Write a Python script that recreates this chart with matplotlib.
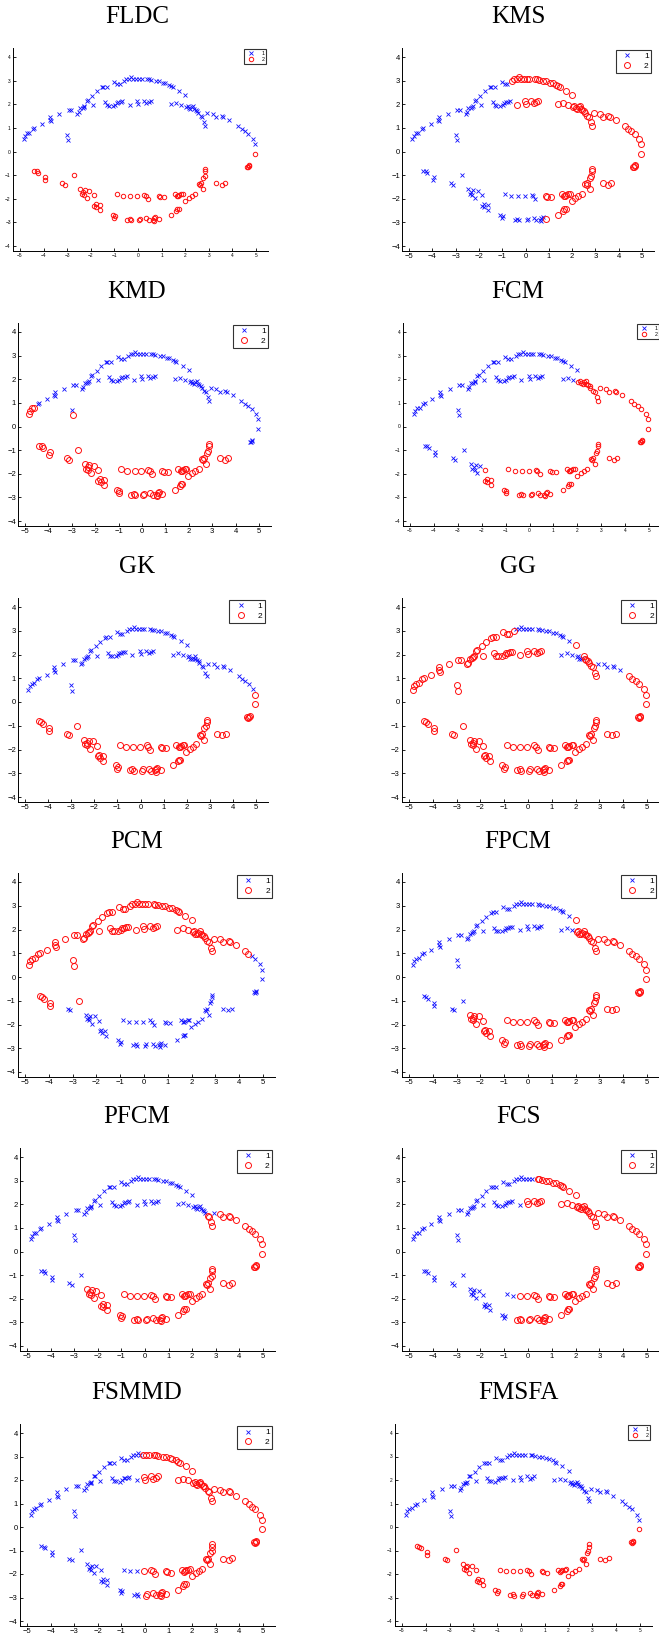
import numpy as np
import matplotlib
matplotlib.use("Agg")
import matplotlib.pyplot as plt

# point cloud (same data in every panel)
upper_outer_x = [-4.85, -4.8, -4.7, -4.6, -4.46, -4.39, -4.06, -3.75, -3.73, -3.7,
                 -3.34, -2.93, -2.83, -2.57, -2.52, -2.45, -2.35, -2.27, -2.3, -2.18,
                 -2.13, -1.9, -1.94, -1.75, -1.54, -1.48, -1.33, -1.03, -0.89, -0.78,
                 -0.58, -0.49, -0.38, -0.28, -0.2, -0.08, 0.05, 0.16, 0.4, 0.48,
                 0.57, 0.77, 0.9, 1.06, 1.16, 1.33, 1.41, 1.47, 1.74, 2.0]
upper_outer_y = [0.52, 0.66, 0.77, 0.79, 0.95, 1.0, 1.15, 1.34, 1.47, 1.27,
                 1.6, 1.75, 1.75, 1.58, 1.66, 1.83, 1.86, 1.93, 1.88, 2.15,
                 2.18, 1.95, 2.35, 2.54, 2.71, 2.74, 2.74, 2.94, 2.87, 2.87,
                 2.97, 3.08, 3.08, 3.15, 3.08, 3.07, 3.07, 3.07, 3.07, 3.05,
                 3.04, 2.99, 2.97, 2.92, 2.9, 2.83, 2.78, 2.74, 2.58, 2.4]
outlier_x = [-3.0, -2.95]
outlier_y = [0.7, 0.48]
upper_inner_x = [-1.41, -1.33, -1.25, -1.08, -0.98, -0.91, -0.84, -0.74, -0.66, -0.35,
                 -0.03, 0.02, 0.25, 0.36, 0.46, 0.54]
upper_inner_y = [2.08, 1.95, 1.94, 1.93, 1.98, 2.07, 2.08, 2.09, 2.12, 1.98,
                 2.13, 2.02, 2.15, 2.05, 2.1, 2.15]
right_inner_x = [1.4, 1.62, 1.84, 2.05, 2.1, 2.15, 2.22, 2.28, 2.35, 2.38,
                 2.44, 2.52, 2.55, 2.66, 2.72, 2.81, 2.86]
right_inner_y = [2.0, 2.05, 1.98, 1.89, 1.93, 1.83, 1.8, 1.87, 1.93, 1.82,
                 1.76, 1.73, 1.65, 1.52, 1.47, 1.24, 1.1]
right_outer_x = [2.94, 3.18, 3.32, 3.56, 3.62, 3.87, 4.25, 4.39, 4.52, 4.68, 4.87, 4.96]
right_outer_y = [1.62, 1.58, 1.48, 1.52, 1.48, 1.34, 1.09, 0.97, 0.87, 0.76, 0.53, 0.3]
tip_x = [4.94, 4.61, 4.65, 4.69, 4.72]
tip_y = [-0.1, -0.64, -0.66, -0.62, -0.58]
lower_rise_x = [2.86, 2.86, 2.83, 2.77, 2.75, 2.66, 2.62, 2.57, 2.42, 2.27, 2.14, 1.98]
lower_rise_y = [-0.74, -0.83, -1.03, -1.11, -1.59, -1.35, -1.42, -1.38, -1.78, -1.89, -1.96, -2.1]
lower_flat_x = [3.32, 3.54, 3.68]
lower_flat_y = [-1.35, -1.4, -1.34]
lower_inner_x = [-0.9, -0.62, -0.32, -0.04, 0.27, 0.33, 0.42, 0.87, 0.93, 1.09,
                 1.55, 1.69, 1.74, 1.84, 1.89, 1.65]
lower_inner_y = [-1.82, -1.89, -1.89, -1.88, -1.83, -1.89, -2.02, -1.88, -1.92, -1.94,
                 -1.82, -1.89, -1.85, -1.81, -1.79, -1.9]
lower_outer_x = [-1.08, -1.0, -0.97, -0.45, -0.35, -0.28, 0.05, 0.09, 0.36, 0.45,
                 0.62, 0.67, 0.73, 0.66, 0.87, 1.4, 1.62, 1.67, 1.72]
lower_outer_y = [-2.67, -2.8, -2.74, -2.88, -2.84, -2.92, -2.92, -2.84, -2.81, -2.91,
                 -2.88, -2.81, -2.76, -2.93, -2.86, -2.67, -2.5, -2.43, -2.43]
lower_left_x = [-4.39, -4.29, -4.22, -3.94, -3.96, -3.2, -3.11, -2.73, -2.45, -2.39,
                -2.32, -2.25, -2.3, -2.18, -2.06, -1.88, -1.86, -1.79, -1.76, -1.62, -1.61]
lower_left_y = [-0.82, -0.83, -0.91, -1.08, -1.2, -1.35, -1.41, -0.99, -1.59, -1.78,
                -1.71, -1.64, -1.83, -1.96, -1.66, -1.85, -2.29, -2.23, -2.34, -2.27, -2.48]

X = np.array(upper_outer_x + outlier_x + upper_inner_x + right_inner_x + right_outer_x
             + tip_x + lower_rise_x + lower_flat_x + lower_inner_x + lower_outer_x + lower_left_x)
Y = np.array(upper_outer_y + outlier_y + upper_inner_y + right_inner_y + right_outer_y
             + tip_y + lower_rise_y + lower_flat_y + lower_inner_y + lower_outer_y + lower_left_y)


# which points each method puts in cluster 2 (red)
def cluster2(name, x, y):
    up = y > 0
    lo = ~up
    if name in ("FLDC", "FMSFA"):
        return lo
    if name == "KMS":
        return (up & (x > -0.62)) | (lo & (x > 0.8))
    if name == "KMD":
        return (lo & (x < 4.5)) | (x < -4.5) | (up & (y < 0.55) & (x < 0))
    if name == "FCM":
        return (lo & (x > -2.0)) | (up & (x > 1.95) & (y < 2.2))
    if name == "GK":
        return lo | (x > 4.9)
    if name == "GG":
        blue = (((y > 2.5) & (x > -0.55) & (x < 1.8))
                | ((y > 1.7) & (y < 2.1) & (x > 1.35) & (x < 2.3))
                | ((x > 2.9) & (x < 4.0) & (y > 1.2)))
        return ~blue
    if name == "PCM":
        return (up & (x < 4.5)) | (lo & ((x < -3.5) | ((x < -2.5) & (y > -1.1))))
    if name == "FPCM":
        return (up & (x > 1.9)) | (lo & (x > -2.6))
    if name == "PFCM":
        return (up & ((x > 3.0) | ((x > 2.6) & (y < 1.6)))) | (lo & (x > -2.6))
    if name == "FCS":
        return ((y > 2.5) & (x > 0.3)) | (up & (y <= 2.5) & (x > -0.1)) | (lo & (x > -0.5))
    if name == "FSMMD":
        return x > -0.15


# panel name, x pixel of tick -5 and 5, y pixel of tick 4 and -4, small style
panels = [
    ("FLDC", 20, 256, 57, 246, True),
    ("KMS", 409, 642, 57, 246, False),
    ("KMD", 25, 259, 332, 521, False),
    ("FCM", 410, 649, 332, 521, True),
    ("GK", 25, 256, 607, 797, False),
    ("GG", 409, 647, 607, 797, False),
    ("PCM", 25, 263, 882, 1072, False),
    ("FPCM", 409, 647, 882, 1072, False),
    ("PFCM", 27, 263, 1157, 1346, False),
    ("FCS", 409, 647, 1157, 1346, False),
    ("FSMMD", 27, 263, 1433, 1621, False),
    ("FMSFA", 402, 640, 1433, 1621, True),
]

W, H = 659, 1636
fig = plt.figure(figsize=(W / 100, H / 100), dpi=100)

for name, xa, xb, ya, yb, small in panels:
    sx = (xb - xa) / 10
    sy = (yb - ya) / 8
    left = xa - 0.3 * sx
    right = xb + 0.5 * sx
    top = ya - 0.4 * sy
    bottom = yb + 0.2 * sy
    ax = fig.add_axes([left / W, 1 - bottom / H, (right - left) / W, (bottom - top) / H])

    red = cluster2(name, X, Y)
    ms_x, ms_o = (2.2, 3.2) if small else (3.0, 4.3)
    ax.plot(X[~red], Y[~red], "x", color="#1010ff", ms=ms_x, mew=0.6, label="1")
    ax.plot(X[red], Y[red], "o", color="#ff1010", mfc="none", ms=ms_o, mew=0.7, label="2")

    ax.set_xlim(-5.3, 5.5)
    ax.set_ylim(-4.2, 4.4)
    ax.set_xticks(range(-5, 6))
    ax.set_yticks(range(-4, 5))
    for s in ("top", "right"):
        ax.spines[s].set_visible(False)
    for s in ("left", "bottom"):
        ax.spines[s].set_linewidth(0.7)
    ax.tick_params(direction="in", length=2, width=0.6,
                   labelsize=3.5 if small else 5.5, pad=1.5)
    for lab in ax.get_xticklabels() + ax.get_yticklabels():
        lab.set_family("Liberation Sans")

    fs = 3.8 if small else 6
    leg = ax.legend(loc="upper right", bbox_to_anchor=(1.0, 1.0),
                    frameon=True, fancybox=False,
                    edgecolor="black", borderpad=0.3, labelspacing=0.25,
                    handlelength=2.2, handletextpad=0.9, borderaxespad=0.3,
                    prop={"family": "Liberation Sans", "size": fs})
    leg.get_frame().set_linewidth(0.8)

    cx = 137 if xa < 300 else 518
    fig.text(cx / W, 1 - (ya - 40) / H, name, ha="center", va="center",
             family="Liberation Serif", fontsize=18)

fig.savefig("out.png", dpi=100)
